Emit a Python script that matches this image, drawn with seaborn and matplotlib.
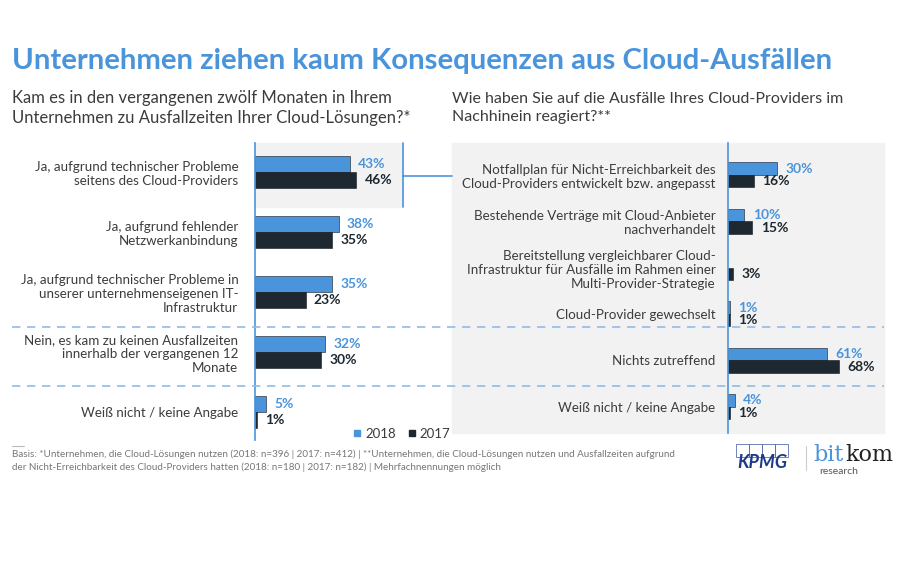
import numpy as np
import pandas as pd
import matplotlib.pyplot as plt
import seaborn as sns
from matplotlib.patches import Rectangle
from matplotlib.lines import Line2D

sns.set_theme(style="white")
plt.rcParams['font.family'] = ['Lato', 'DejaVu Sans']

# data
years = ["2018", "2017"]
left_cats = [
    "Ja, aufgrund technischer Probleme\nseitens des Cloud-Providers",
    "Ja, aufgrund fehlender\nNetzwerkanbindung",
    "Ja, aufgrund technischer Probleme in\nunserer unternehmenseigenen IT-\nInfrastruktur",
    "Nein, es kam zu keinen Ausfallzeiten\ninnerhalb der vergangenen 12\nMonate",
    "Weiß nicht / keine Angabe",
]
left_2018 = [43, 38, 35, 32, 5]
left_2017 = [46, 35, 23, 30, 1]

right_cats = [
    "Notfallplan für Nicht-Erreichbarkeit des\nCloud-Providers entwickelt bzw. angepasst",
    "Bestehende Verträge mit Cloud-Anbieter\nnachverhandelt",
    "Bereitstellung vergleichbarer Cloud-\nInfrastruktur für Ausfälle im Rahmen einer\nMulti-Provider-Strategie",
    "Cloud-Provider gewechselt",
    "Nichts zutreffend",
    "Weiß nicht / keine Angabe",
]
right_2018 = [30, 10, np.nan, 1, 61, 4]
right_2017 = [16, 15, 3, 1, 68, 1]

title = "Unternehmen ziehen kaum Konsequenzen aus Cloud-Ausfällen"
q_left = "Kam es in den vergangenen zwölf Monaten in Ihrem\nUnternehmen zu Ausfallzeiten Ihrer Cloud-Lösungen?*"
q_right = "Wie haben Sie auf die Ausfälle Ihres Cloud-Providers im\nNachhinein reagiert?**"
footnote = ("Basis: *Unternehmen, die Cloud-Lösungen nutzen (2018: n=396 | 2017: n=412) | "
            "**Unternehmen, die Cloud-Lösungen nutzen und Ausfallzeiten aufgrund\n"
            "der Nicht-Erreichbarkeit des Cloud-Providers hatten (2018: n=180 | 2017: n=182) | "
            "Mehrfachnennungen möglich")

BLUE = "#4a94dc"
DARK = "#1d2830"
TXT = "#3c3c3c"
LINE = "#8fbce8"
palette = {"2018": BLUE, "2017": DARK}

W, H = 900, 563


def fx(x):
    return x / W


def fy(y):
    return 1 - y / H


def make_df(cats, v18, v17):
    rows = []
    for c, a, b in zip(cats, v18, v17):
        rows.append({"cat": c, "year": "2018", "value": a})
        rows.append({"cat": c, "year": "2017", "value": b})
    return pd.DataFrame(rows)


fig = plt.figure(figsize=(9, 5.63), dpi=100)

# background panels (behind the axes)
fig.patches.append(Rectangle((fx(452), fy(433)), fx(884) - fx(452), fy(143) - fy(433),
                             transform=fig.transFigure, color="#f2f2f2", zorder=-5))
fig.patches.append(Rectangle((fx(255), fy(207)), fx(403) - fx(255), fy(143) - fy(207),
                             transform=fig.transFigure, color="#f2f2f2", zorder=-5))


def panel(rect, cats, v18, v17, xmax, ylim, pad):
    ax = fig.add_axes(rect)
    ax.set_facecolor("none")
    ax.set_zorder(2)
    df = make_df(cats, v18, v17)
    sns.barplot(data=df, y="cat", x="value", hue="year", hue_order=years, orient="h",
                palette=palette, width=0.54, ax=ax, legend=False, saturation=1,
                edgecolor="#10181e", linewidth=0.4)
    ax.set_xlim(0, xmax)
    ax.set_ylim(*ylim)
    ax.set_xlabel("")
    ax.set_ylabel("")
    ax.set_xticks([])
    ax.tick_params(axis="y", length=0, pad=pad, labelsize=9.6, labelcolor=TXT)
    for lab in ax.get_yticklabels():
        lab.set_horizontalalignment("right")
    for s in ["top", "right", "bottom"]:
        ax.spines[s].set_visible(False)
    ax.spines["left"].set_color(BLUE)
    ax.spines["left"].set_linewidth(1.2)
    for cont, col in zip(ax.containers, [BLUE, DARK]):
        labels = ["" if np.isnan(v) else f"{v:.0f}%" for v in cont.datavalues]
        ax.bar_label(cont, labels=labels, padding=6, color=col, fontsize=10,
                     fontweight="bold")
    return ax


# left panel: axis from x=255..450 px, 2.2 px per %
ax1 = panel([fx(255), fy(440), fx(450) - fx(255), fy(143) - fy(440)],
            left_cats, left_2018, left_2017, (450 - 255) / 2.2, (4.467, -0.483), 12)
# right panel: axis from x=728..884 px, 1.63 px per %
ax2 = panel([fx(728), fy(433), fx(884) - fx(728), fy(143) - fy(433)],
            right_cats, right_2018, right_2017, (884 - 728) / 1.63, (5.57, -0.69), 9)

# connectors and separators
fig.lines.append(Line2D([fx(403), fx(403)], [fy(143), fy(207)], color=BLUE, lw=1.2,
                        transform=fig.transFigure))
fig.lines.append(Line2D([fx(403), fx(452)], [fy(176), fy(176)], color=BLUE, lw=1.2,
                        transform=fig.transFigure))
for yy in [327, 386]:
    fig.lines.append(Line2D([fx(12), fx(884)], [fy(yy), fy(yy)], color=LINE, lw=1.2,
                            ls=(0, (5, 4)), transform=fig.transFigure))

# titles
fig.text(fx(12), fy(61), title, color=BLUE, fontsize=21.2, fontweight="bold", va="center")
fig.text(fx(12), fy(108), q_left, color=TXT, fontsize=12, va="center", linespacing=1.25)
fig.text(fx(452), fy(108), q_right, color=TXT, fontsize=11.5, va="center", linespacing=1.3)

# legend
handles = [Line2D([], [], marker="s", ls="", color=palette[y], markersize=5) for y in years]
fig.legend(handles, years, loc="center left", bbox_to_anchor=(fx(340), fy(434)), ncol=2,
           frameon=False, handletextpad=0.2, columnspacing=0.8, handlelength=0.8,
           fontsize=9.5, labelcolor=TXT)

# footnote
fig.lines.append(Line2D([fx(12), fx(24)], [fy(446), fy(446)], color="#bbbbbb", lw=0.8,
                        transform=fig.transFigure))
fig.text(fx(12), fy(461), footnote, color="#777777", fontsize=7.1, va="center",
         linespacing=1.5)

# logos
for i in range(4):
    fig.patches.append(Rectangle((fx(736 + i * 13), fy(457)), fx(13), fy(444) - fy(457),
                                 transform=fig.transFigure, fill=False,
                                 edgecolor="#5a6fb0", lw=0.6))
fig.text(fx(762), fy(462), "KPMG", color="#1e3a8a", fontsize=13, fontweight="bold",
         style="italic", ha="center", va="center")
fig.lines.append(Line2D([fx(806), fx(806)], [fy(446), fy(470)], color="#cccccc", lw=0.8,
                        transform=fig.transFigure))
fig.text(fx(844), fy(455), "bit", color=BLUE, fontsize=16, family="DejaVu Serif",
         ha="right", va="center")
fig.text(fx(845), fy(455), "kom", color="#222222", fontsize=16, family="DejaVu Serif",
         ha="left", va="center")
fig.text(fx(819), fy(472), "research", color="#555555", fontsize=7.5, va="center")

fig.savefig("out.png", dpi=100)
